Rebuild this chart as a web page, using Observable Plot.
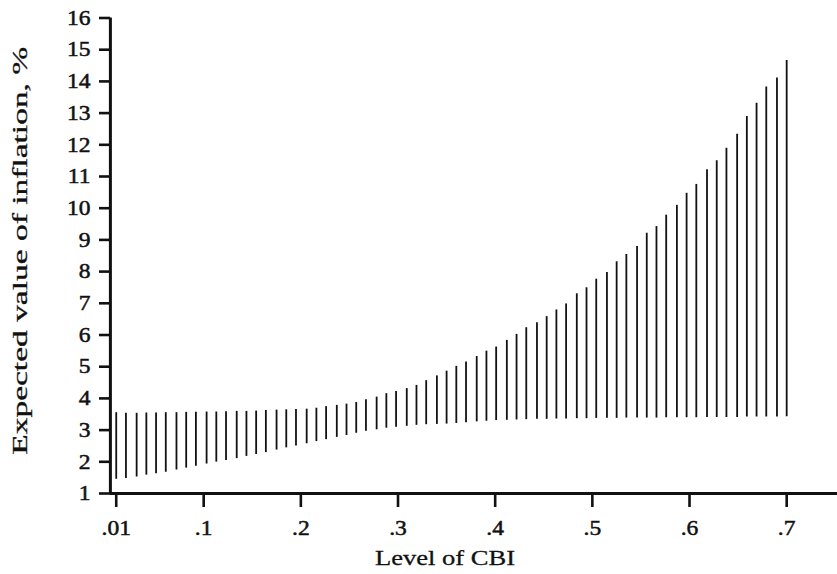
<!DOCTYPE html>
<html>
<head>
<meta charset="utf-8">
<script src="https://cdn.jsdelivr.net/npm/d3@7"></script>
<script src="https://cdn.jsdelivr.net/npm/@observablehq/plot@0.6"></script>
<style>
  html, body { margin: 0; padding: 0; background: #fff; }
  #chart svg { display: block; }
</style>
</head>
<body>
<div id="chart"></div>
<script>
// Level of CBI for each vertical line (as seen in the figure)
const cbi = [0.010, 0.020, 0.031, 0.041, 0.051, 0.061, 0.072, 0.082, 0.092, 0.103,
  0.113, 0.123, 0.134, 0.144, 0.154, 0.164, 0.175, 0.185, 0.195, 0.206,
  0.216, 0.226, 0.237, 0.247, 0.257, 0.267, 0.278, 0.288, 0.298, 0.309,
  0.319, 0.329, 0.340, 0.350, 0.360, 0.370, 0.381, 0.391, 0.401, 0.412,
  0.422, 0.432, 0.443, 0.453, 0.463, 0.473, 0.484, 0.494, 0.504, 0.515,
  0.525, 0.535, 0.546, 0.556, 0.566, 0.576, 0.587, 0.597, 0.607, 0.618,
  0.628, 0.638, 0.649, 0.659, 0.669, 0.679, 0.690, 0.700];

// Lower end of each line (expected inflation, %)
const low = [1.45, 1.47, 1.52, 1.58, 1.62, 1.67, 1.74, 1.80, 1.86, 1.93,
  1.99, 2.04, 2.10, 2.17, 2.23, 2.29, 2.37, 2.44, 2.50, 2.57,
  2.64, 2.70, 2.77, 2.83, 2.90, 2.96, 3.01, 3.06, 3.09, 3.12,
  3.15, 3.17, 3.18, 3.19, 3.21, 3.23, 3.26, 3.28, 3.30, 3.31,
  3.32, 3.33, 3.34, 3.34, 3.35, 3.35, 3.36, 3.36, 3.37, 3.37,
  3.37, 3.38, 3.38, 3.38, 3.38, 3.39, 3.39, 3.39, 3.39, 3.40,
  3.40, 3.40, 3.40, 3.41, 3.41, 3.41, 3.41, 3.42];

// Upper end of each line (expected inflation, %)
const high = [3.55, 3.53, 3.53, 3.54, 3.54, 3.55, 3.55, 3.56, 3.56, 3.57,
  3.57, 3.58, 3.59, 3.59, 3.60, 3.62, 3.63, 3.64, 3.65, 3.66,
  3.69, 3.74, 3.78, 3.82, 3.87, 3.96, 4.04, 4.15, 4.22, 4.31,
  4.41, 4.56, 4.71, 4.86, 5.01, 5.15, 5.32, 5.49, 5.62, 5.83,
  6.02, 6.23, 6.39, 6.58, 6.79, 6.98, 7.30, 7.49, 7.76, 7.97,
  8.31, 8.54, 8.79, 9.21, 9.42, 9.78, 10.09, 10.47, 10.75, 11.21,
  11.50, 11.89, 12.33, 12.89, 13.31, 13.82, 14.11, 14.66];

const xTicks = [0.01, 0.1, 0.2, 0.3, 0.4, 0.5, 0.6, 0.7];
const xTickLabels = [".01", ".1", ".2", ".3", ".4", ".5", ".6", ".7"];
const yTicks = [1, 2, 3, 4, 5, 6, 7, 8, 9, 10, 11, 12, 13, 14, 15, 16];
const xTitle = "Level of CBI";
const yTitle = "Expected value of inflation, %";

const data = cbi.map((x, i) => ({x, low: low[i], high: high[i]}));
const tickLabelMap = new Map(xTicks.map((t, i) => [t, xTickLabels[i]]));

const ink = "#111";
const font = "Liberation Serif, Times New Roman, serif";
const xDomain = [0.004, 0.7523];
const yDomain = [1, 16];

const chart = Plot.plot({
  width: 837,
  height: 574,
  marginLeft: 110,
  marginRight: 0,
  marginTop: 17.5,
  marginBottom: 81,
  style: {fontFamily: font, fontSize: "21px", color: ink, background: "#fff"},
  x: {domain: xDomain, range: [109.9, 837]},
  y: {domain: yDomain, range: [493, 17.5]},
  marks: [
    Plot.ruleX(data, {x: "x", y1: "low", y2: "high", stroke: ink, strokeWidth: 1.8}),
    Plot.axisY(yTicks, {tickSize: 11, tickPadding: 9, strokeWidth: 2.6, stroke: ink, fill: ink, label: null}),
    Plot.axisX(xTicks, {tickSize: 14, tickPadding: 13, strokeWidth: 2.6, stroke: ink, fill: ink, label: null,
      tickFormat: (d) => tickLabelMap.get(d)}),
    Plot.ruleX([xDomain[0]], {y1: yDomain[0], y2: yDomain[1], stroke: ink, strokeWidth: 3}),
    Plot.ruleY([yDomain[0]], {x1: xDomain[0], x2: xDomain[1], stroke: ink, strokeWidth: 3}),
    Plot.text([xTitle], {frameAnchor: "bottom", textAnchor: "middle", lineAnchor: "middle", dx: -29, dy: 64, fontSize: 22, fill: ink}),
    Plot.text([yTitle], {frameAnchor: "left", textAnchor: "middle", lineAnchor: "middle", dx: -91, dy: -5, rotate: -90, fontSize: 22, fill: ink})
  ]
});

document.getElementById("chart").appendChild(chart);

// tick labels: set size and widen/embolden like the reference's scanned glyphs
d3.select(chart).selectAll("g[aria-label$='tick label'] text").each(function () {
  this.style.fontSize = "21px";
  this.style.stroke = ink;
  this.style.strokeWidth = "0.5px";
  const w = this.getComputedTextLength();
  d3.select(this).attr("textLength", w * 1.12).attr("lengthAdjust", "spacingAndGlyphs");
});
// widen the titles to the reference's set width
d3.select(chart).selectAll("text").each(function () {
  const t = this.textContent;
  if (t === xTitle || t === yTitle) {
    this.style.stroke = ink;
    this.style.strokeWidth = "0.3px";
  }
  if (t === xTitle) d3.select(this).attr("textLength", 140).attr("lengthAdjust", "spacingAndGlyphs");
  if (t === yTitle) d3.select(this).attr("textLength", 408).attr("lengthAdjust", "spacingAndGlyphs");
});
</script>
</body>
</html>
